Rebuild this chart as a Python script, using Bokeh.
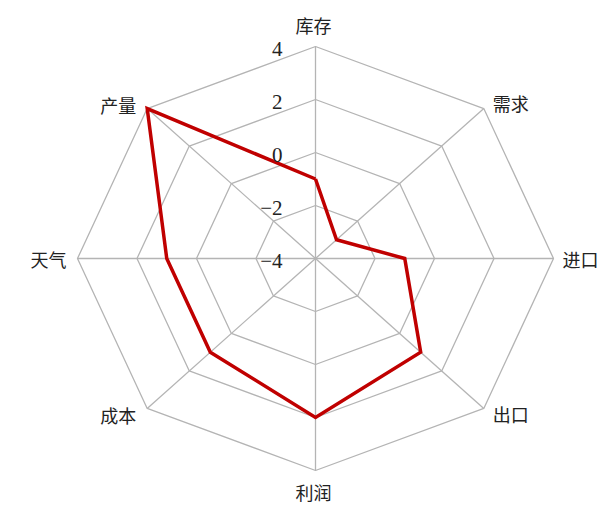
import math
from bokeh.plotting import figure
from bokeh.models import Range1d, ColumnDataSource
from bokeh.core.properties import value
from bokeh.embed import file_html
from bokeh.resources import INLINE

categories = ["库存", "需求", "进口", "出口", "利润", "成本", "天气", "产量"]
values = [-1, -3, -1, 1, 2, 1, 1, 4]
ring_values = [-4, -2, 0, 2, 4]
tick_labels = ["−4", "−2", "0", "2", "4"]
vmin, vmax = -4, 4

W, H = 614, 507
cx, cy = 315, 258      # centre in figure pixels
rx, ry = 238, 212      # outer radius in pixels (x, y)

p = figure(width=W, height=H, output_backend="svg", toolbar_location=None,
           x_range=Range1d(-cx / rx, (W - cx) / rx),
           y_range=Range1d(-(H - cy) / ry, cy / ry),
           min_border=0, outline_line_color=None)
p.axis.visible = False
p.grid.visible = False
p.background_fill_color = "white"
p.border_fill_color = "white"

n = len(categories)
angles = [2 * math.pi * i / n for i in range(n)]

def frac(v):
    return (v - vmin) / (vmax - vmin)

# rings
for rv in ring_values[1:]:
    f = frac(rv)
    xs = [f * math.sin(a) for a in angles] + [0]
    ys = [f * math.cos(a) for a in angles] + [0]
    xs[-1], ys[-1] = xs[0], ys[0]
    p.line(xs, ys, line_color="#b4b4b4", line_width=1.3)

# spokes
for a in angles:
    p.line([0, math.sin(a)], [0, math.cos(a)], line_color="#b4b4b4", line_width=1.3)

# data polygon
dx = [frac(v) * math.sin(a) for v, a in zip(values, angles)]
dy = [frac(v) * math.cos(a) for v, a in zip(values, angles)]
p.line(dx + [dx[0]], dy + [dy[0]], line_color="#c00000", line_width=3.5,
       line_join="miter")

# tick labels
p.text(x=[0] * len(ring_values), y=[frac(v) for v in ring_values], text=tick_labels,
       text_font=value("Liberation Serif"), text_font_size="21px",
       text_color="#222222", text_align="right", text_baseline="middle",
       x_offset=-33, y_offset=2)

# category labels
lab = dict(x=[], y=[], text=[], align=[], xo=[], yo=[])
for c, a in zip(categories, angles):
    sx, sy = math.sin(a), math.cos(a)
    if abs(sx) < 1e-6:
        align = "center"; xo = -2
        yo = -22 if sy > 0 else 21
    elif sx > 0:
        align = "left"; xo = 9
        yo = -6 if sy > 0.3 else (6 if sy < -0.3 else 0)
    else:
        align = "right"; xo = -11
        yo = -4 if sy > 0.3 else (7 if sy < -0.3 else 0)
    lab["x"].append(sx); lab["y"].append(sy); lab["text"].append(c)
    lab["align"].append(align); lab["xo"].append(xo); lab["yo"].append(yo)

src = ColumnDataSource(lab)
p.text(x="x", y="y", text="text", source=src, text_align="align",
       x_offset="xo", y_offset="yo", text_baseline="middle",
       text_font=value("Noto Sans CJK SC"), text_font_size="18px",
       text_color="#222222")

open("out.html", "w").write(file_html(p, INLINE))
